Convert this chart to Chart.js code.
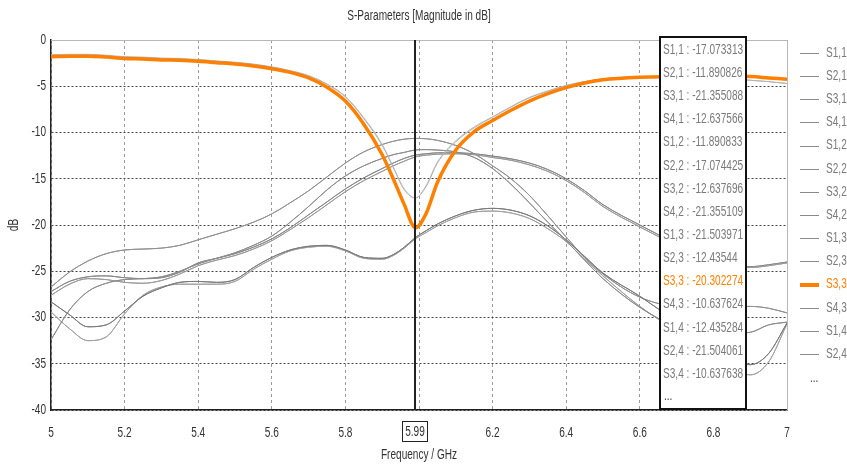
<!DOCTYPE html>
<html>
<head>
<meta charset="utf-8">
<script src="https://cdn.jsdelivr.net/npm/chart.js@4.4.0/dist/chart.umd.min.js"></script>
<style>
html, body { margin: 0; padding: 0; background: #fff; }
</style>
</head>
<body>
<canvas id="myChart" width="847" height="467"></canvas>
<script>
// frequency points (GHz)
var freq = [5.0, 5.05, 5.1, 5.15, 5.2, 5.25, 5.3, 5.35, 5.4, 5.45,
            5.5, 5.55, 5.6, 5.65, 5.7, 5.75, 5.8, 5.85, 5.9, 5.93,
            5.96, 5.99, 6.02, 6.05, 6.1, 6.15, 6.2, 6.25, 6.3, 6.35,
            6.4, 6.45, 6.5, 6.6, 6.7, 6.8, 6.9, 6.95, 7.0];

// reflection (dB)
var s11 = [-1.6, -1.55, -1.55, -1.65, -1.8, -1.85, -1.95, -2.0, -2.1, -2.25,
           -2.4, -2.6, -2.9, -3.3, -3.85, -4.75, -6.1, -8.4, -11.3, -13.7,
           -16.1, -17.07, -15.7, -13.2, -10.9, -9.4, -8.3, -7.2, -6.2, -5.5,
           -4.9, -4.5, -4.2, -4.0, -4.0, -4.1, -4.35, -4.5, -4.7];
var s22 = [-1.65, -1.6, -1.6, -1.7, -1.85, -1.9, -2.0, -2.05, -2.15, -2.3,
           -2.45, -2.65, -2.95, -3.35, -3.9, -4.8, -6.15, -8.5, -11.4, -13.8,
           -16.2, -17.07, -15.8, -13.3, -11.0, -9.5, -8.35, -7.25, -6.25, -5.55,
           -4.95, -4.5, -4.2, -4.0, -4.0, -4.1, -4.35, -4.5, -4.7];
var s33 = [-1.8, -1.75, -1.75, -1.85, -2.0, -2.05, -2.15, -2.2, -2.3, -2.45,
           -2.6, -2.8, -3.1, -3.5, -4.1, -5.1, -6.6, -9.1, -12.4, -15.0,
           -17.8, -20.3, -18.7, -15.4, -11.9, -9.9, -8.7, -7.6, -6.6, -5.8,
           -5.15, -4.65, -4.3, -4.02, -3.95, -3.9, -3.95, -4.1, -4.25];
var s44 = [-1.8, -1.75, -1.75, -1.85, -2.0, -2.05, -2.15, -2.2, -2.3, -2.45,
           -2.6, -2.8, -3.1, -3.5, -4.1, -5.1, -6.6, -9.1, -12.4, -15.0,
           -17.8, -20.3, -18.7, -15.4, -11.9, -9.9, -8.7, -7.6, -6.6, -5.8,
           -5.15, -4.65, -4.3, -4.02, -3.95, -3.9, -3.95, -4.1, -4.25];

// transmission (dB)
var t43 = [-26.7, -25.1, -23.9, -23.1, -22.7, -22.6, -22.5, -22.2, -21.6, -21.0,
           -20.4, -19.7, -18.8, -17.6, -16.3, -14.8, -13.3, -12.1, -11.3, -10.95,
           -10.72, -10.64, -10.68, -10.85, -11.4, -12.3, -13.6, -15.0, -16.8, -19.0,
           -21.3, -23.5, -25.3, -27.8, -28.8, -28.9, -28.8, -29.0, -29.5];
var t21 = [-32.4, -29.2, -27.2, -26.3, -25.9, -25.8, -25.6, -25.0, -24.2, -23.6,
           -23.0, -22.2, -21.2, -19.7, -18.0, -16.2, -14.7, -13.6, -12.8, -12.4,
           -12.15, -11.89, -11.85, -11.9, -12.1, -12.7, -13.9, -15.6, -17.6, -19.7,
           -21.7, -23.8, -25.8, -28.9, -31.0, -31.8, -31.6, -30.8, -30.5];
var t23 = [-27.2, -26.1, -25.6, -25.5, -25.7, -25.8, -25.7, -25.1, -24.1, -23.6,
           -23.1, -22.4, -21.5, -20.3, -18.9, -17.5, -16.1, -14.9, -13.9, -13.3,
           -12.8, -12.44, -12.3, -12.2, -12.2, -12.3, -12.55, -12.85, -13.3, -14.0,
           -15.0, -16.3, -17.8, -20.0, -22.0, -23.6, -24.5, -24.3, -24.0];
var t41 = [-27.6, -26.4, -25.8, -25.9, -26.2, -26.3, -26.0, -25.3, -24.4, -23.8,
           -23.3, -22.6, -21.7, -20.5, -19.2, -17.8, -16.4, -15.2, -14.2, -13.6,
           -13.1, -12.64, -12.45, -12.35, -12.3, -12.4, -12.7, -13.0, -13.5, -14.2,
           -15.2, -16.5, -18.0, -20.2, -22.2, -23.8, -24.6, -24.4, -24.1];
var t31 = [-28.3, -29.7, -31.0, -30.8, -29.3, -27.7, -26.8, -26.2, -26.1, -26.2,
           -25.9, -24.6, -23.5, -22.7, -22.3, -22.2, -22.7, -23.5, -23.6, -23.2,
           -22.4, -21.36, -20.6, -19.9, -19.0, -18.4, -18.2, -18.4, -19.0, -20.1,
           -21.6, -23.4, -25.2, -27.7, -30.5, -33.5, -35.1, -33.9, -30.6];
var t13 = [-29.4, -31.2, -32.5, -32.1, -29.6, -27.6, -26.7, -26.4, -26.4, -26.4,
           -26.1, -24.8, -23.7, -22.8, -22.4, -22.3, -22.8, -23.6, -23.7, -23.3,
           -22.5, -21.5, -20.8, -20.1, -19.2, -18.6, -18.5, -18.7, -19.3, -20.4,
           -21.8, -23.7, -25.5, -28.8, -31.5, -34.5, -36.2, -34.8, -30.7];

var names = ['S1,1', 'S2,1', 'S3,1', 'S4,1', 'S1,2', 'S2,2', 'S3,2', 'S4,2',
             'S1,3', 'S2,3', 'S3,3', 'S4,3', 'S1,4', 'S2,4', 'S3,4', 'S4,4'];
var series = [s11, t21, t31, t41, t21, s22, t41, t31, t13, t23, s33, t43, t23, t13, t43, s44];
var markerFreq = 5.99;
var markerVals = ['-17.073313', '-11.890826', '-21.355088', '-12.637566', '-11.890833', '-17.074425',
                  '-12.637696', '-21.355109', '-21.503971', '-12.43544', '-20.302274', '-10.637624',
                  '-12.435284', '-21.504061', '-10.637638'];
var yTicks = [0, -5, -10, -15, -20, -25, -30, -35, -40];

var FONT = "'Liberation Sans', Arial, sans-serif";
var SQUEEZE = 0.72; // the original uses a narrow UI font
var ORANGE = 'rgb(255, 128, 0)';
var GRAYS = ['#b4b4b4', '#8c8c8c', '#7a7a7a', '#9a9a9a', '#8c8c8c', '#b4b4b4', '#9a9a9a', '#7a7a7a',
             '#a0a0a0', '#888888', ORANGE, '#909090', '#888888', '#a0a0a0', '#909090', '#b4b4b4'];

var datasets = names.map(function (n, i) {
    var isMain = n == 'S3,3';
    return {
        label: n,
        data: freq.map(function (f, k) { return { x: f, y: series[i][k] }; }),
        borderColor: GRAYS[i],
        borderWidth: isMain ? 3.5 : 1,
        order: isMain ? 0 : 1,
        pointRadius: 0,
        fill: false
    };
});

var overlay = {
    id: 'overlay',
    beforeInit: function (chart) {
        // draw every text condensed around its anchor point
        var ctx = chart.ctx;
        var rawFill = ctx.fillText;
        ctx.fillText = function (t, x, y) {
            this.save();
            this.translate(x, y);
            this.scale(SQUEEZE, 1);
            rawFill.call(this, t, 0, 0);
            this.restore();
        };
    },
    beforeDatasetsDraw: function (chart) {
        var a = chart.chartArea, ctx = chart.ctx;
        ctx.save();
        ctx.strokeStyle = '#b8b8b8';
        ctx.lineWidth = 1;
        ctx.beginPath();
        ctx.moveTo(a.left, a.top + 0.5);
        ctx.lineTo(a.right + 0.5, a.top + 0.5);
        ctx.lineTo(a.right + 0.5, a.bottom);
        ctx.stroke();
        ctx.restore();
    },
    afterDatasetsDraw: function (chart) {
        var a = chart.chartArea, ctx = chart.ctx;
        var mx = Math.round(chart.scales.x.getPixelForValue(markerFreq));
        ctx.save();
        ctx.strokeStyle = '#222';
        ctx.lineWidth = 2;
        ctx.beginPath();
        ctx.moveTo(mx, a.top);
        ctx.lineTo(mx, a.bottom);
        ctx.stroke();
        ctx.restore();
    },
    afterDraw: function (chart) {
        var ctx = chart.ctx;
        var mx = Math.round(chart.scales.x.getPixelForValue(markerFreq));
        ctx.save();
        ctx.textBaseline = 'middle';

        // title
        ctx.fillStyle = '#333';
        ctx.font = '14px ' + FONT;
        ctx.textAlign = 'center';
        ctx.fillText('S-Parameters [Magnitude in dB]', 419, 16);

        // marker frequency label
        ctx.fillStyle = '#fff';
        ctx.fillRect(mx - 13, 421, 26, 21);
        ctx.strokeStyle = '#222';
        ctx.lineWidth = 1;
        ctx.strokeRect(mx - 12.5, 421.5, 25, 20);
        ctx.fillStyle = '#333';
        ctx.fillText(String(markerFreq), mx, 432);

        // marker value box
        ctx.fillStyle = '#fff';
        ctx.fillRect(660, 37, 86, 372);
        ctx.strokeStyle = '#111';
        ctx.lineWidth = 2;
        ctx.strokeRect(660, 37, 86, 372);
        ctx.textAlign = 'left';
        ctx.font = '14px ' + FONT;
        markerVals.forEach(function (v, i) {
            ctx.fillStyle = names[i] == 'S3,3' ? ORANGE : '#7a7a7a';
            ctx.fillText(names[i] + ' : ' + v, 663, 50 + i * 23.14);
        });
        ctx.fillStyle = '#333';
        ctx.fillText('...', 664, 396);

        // legend
        for (var i = 0; i < 14; i++) {
            var y = 53 + i * 23.15;
            var main = names[i] == 'S3,3';
            ctx.strokeStyle = main ? ORANGE : '#8a8a8a';
            ctx.lineWidth = main ? 4 : 1;
            ctx.beginPath();
            ctx.moveTo(800, Math.round(y) + (main ? 0 : 0.5));
            ctx.lineTo(819, Math.round(y) + (main ? 0 : 0.5));
            ctx.stroke();
            ctx.fillStyle = main ? ORANGE : '#7a7a7a';
            ctx.fillText(names[i], 826, y);
        }
        ctx.fillStyle = '#333';
        ctx.fillText('...', 810, 378);
        ctx.restore();
    }
};

var myChart = new Chart(
    document.getElementById('myChart'), {
    type: 'line',
    data: { datasets: datasets },
    options: {
        responsive: false,
        animation: false,
        devicePixelRatio: 1,
        layout: { padding: { top: 40, right: 60, left: 0, bottom: 0 } },
        plugins: {
            legend: { display: false },
            title: { display: false },
            tooltip: { enabled: false }
        },
        elements: {
            point: { radius: 0 },
            line: { cubicInterpolationMode: 'monotone' }
        },
        scales: {
            x: {
                type: 'linear',
                min: 5,
                max: 7,
                afterFit: function (s) { s.height = 57; },
                ticks: {
                    stepSize: 0.2,
                    padding: 15,
                    autoSkip: false,
                    maxRotation: 0,
                    color: '#333',
                    font: { family: FONT, size: 14 },
                    callback: function (v) { return String(+v.toFixed(2)); }
                },
                grid: { color: '#9a9a9a', lineWidth: 1, drawTicks: false },
                border: { color: '#222', width: 1.5, dash: [3, 3] },
                title: {
                    display: true,
                    text: 'Frequency / GHz',
                    color: '#333',
                    font: { family: FONT, size: 14 },
                    padding: { top: 0, bottom: 3 }
                }
            },
            y: {
                min: -40,
                max: 0,
                afterFit: function (s) { s.width = 51; },
                afterBuildTicks: function (s) { s.ticks = yTicks.map(function (v) { return { value: v }; }); },
                ticks: {
                    padding: 5,
                    color: '#333',
                    font: { family: FONT, size: 14 },
                    callback: function (v) { return String(v); }
                },
                grid: { color: '#444', lineWidth: 1, drawTicks: false },
                border: { color: '#222', width: 1.5, dash: [2, 2] },
                title: {
                    display: true,
                    text: 'dB',
                    color: '#333',
                    font: { family: FONT, size: 14 },
                    padding: { top: 6, bottom: 0 }
                }
            }
        }
    },
    plugins: [overlay]
});
</script>
</body>
</html>
